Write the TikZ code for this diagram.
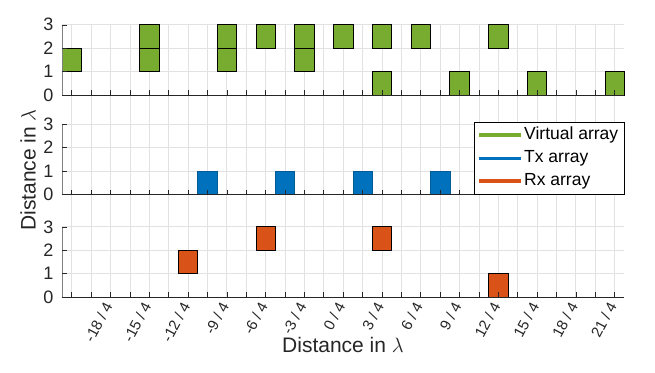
\documentclass[tikz,border=0pt]{standalone}
\usepackage{fontspec}
\setmainfont{Liberation Sans}
\definecolor{mgreen}{HTML}{77AC30}
\definecolor{mblue}{HTML}{0072BD}
\definecolor{mdblue}{HTML}{005A96}
\definecolor{morange}{HTML}{D95319}
\definecolor{mgrid}{HTML}{E2E2E2}
\definecolor{maxis}{HTML}{262626}
\definecolor{myaxis}{HTML}{808080}
\begin{document}
\begin{tikzpicture}[x=1pt,y=-1pt,
  gridl/.style={draw=mgrid, line width=0.7pt},
  vbar/.style={fill=mgreen, draw=black, line width=0.7pt},
  txbar/.style={fill=mblue, draw=mdblue, line width=0.5pt},
  rxbar/.style={fill=morange, draw=black, line width=0.7pt},
  xaxisl/.style={draw=maxis, line width=0.8pt},
  yaxisl/.style={draw=myaxis, line width=0.8pt},
  tickl/.style={draw=maxis, line width=0.6pt},
  ylab/.style={anchor=east, inner sep=0pt, font=\fontsize{18}{18}\selectfont, text=maxis},
  xlab/.style={anchor=east, inner sep=0pt, rotate=62, font=\fontsize{15}{15}\selectfont, text=maxis},
  axlab/.style={inner sep=0pt, font=\fontsize{21}{21}\selectfont, text=maxis},
  legtxt/.style={anchor=west, inner sep=0pt, font=\fontsize{17.5}{17.5}\selectfont, text=black}]
\useasboundingbox (0,0) rectangle (655,372);
\fill[white] (0,0) rectangle (655,372);

% vertical grid lines (continuous through all panels)
\foreach \k in {0,...,28} \draw[gridl] ({71.7+19.39*\k},24.5) -- ({71.7+19.39*\k},297);

% horizontal grid lines
\foreach \yo in {95,194.5,297} {
  \begin{scope}[shift={(71.7,\yo)}, x=19.39pt, y=23.4pt]
    \foreach \v in {1,2,3} \draw[gridl] (-0.5,\v) -- (28.5,\v);
  \end{scope}
}

% panel 1: virtual array
\begin{scope}[shift={(71.7,95)}, x=19.39pt, y=23.4pt]
  \foreach \k/\a in {0/1, 4/1, 4/2, 8/1, 8/2, 10/2, 12/1, 12/2, 14/2, 16/2, 16/0, 18/2, 20/0, 22/2, 24/0, 28/0}
    \draw[vbar] ({\k-0.5},\a) rectangle ({\k+0.5},{\a+1});
  \draw[yaxisl] (-0.5,0) -- (-0.5,3);
  \foreach \v in {1,2,3} \draw[tickl] (-0.5,\v) -- (-0.25,\v);
  \foreach \k in {0,...,28} \draw[tickl] (\k,0) -- (\k,0.2);
  \draw[xaxisl] (-0.5,0) -- (28.5,0);
\end{scope}

% panel 2: Tx array
\begin{scope}[shift={(71.7,194.5)}, x=19.39pt, y=23.4pt]
  \foreach \k in {7,11,15,19}
    \draw[txbar] ({\k-0.5},0) rectangle ({\k+0.5},1);
  \draw[yaxisl] (-0.5,0) -- (-0.5,3);
  \foreach \v in {1,2,3} \draw[tickl] (-0.5,\v) -- (-0.25,\v);
  \foreach \k in {0,...,28} \draw[tickl] (\k,0) -- (\k,0.2);
  \draw[xaxisl] (-0.5,0) -- (28.5,0);
\end{scope}

% panel 3: Rx array
\begin{scope}[shift={(71.7,297)}, x=19.39pt, y=23.4pt]
  \foreach \k/\a in {6/1, 10/2, 16/2, 22/0}
    \draw[rxbar] ({\k-0.5},\a) rectangle ({\k+0.5},{\a+1});
  \draw[yaxisl] (-0.5,0) -- (-0.5,3);
  \foreach \v in {1,2,3} \draw[tickl] (-0.5,\v) -- (-0.25,\v);
  \foreach \k in {0,...,28} \draw[tickl] (\k,0) -- (\k,0.2);
  \draw[xaxisl] (-0.5,0) -- (28.5,0);
\end{scope}

% y tick labels
\foreach \yo [count=\p] in {95,194.5,297}
  \foreach \v in {0,1,2,3}
    \node[ylab] (yt\p\v) at (53.5,{\yo-23.4*\v}) {\v};

% x tick labels
\foreach \i in {0,...,13} {
  \pgfmathtruncatemacro{\n}{-18+3*\i}
  \node[xlab] (xt\i) at ({71.7+19.39*(2+2*\i)-2},303) {\n\ / 4};
}

% axis labels
\node[axlab] (xlabel) at (343,345) {Distance in $\lambda$};
\node[axlab, rotate=90] (ylabel) at (28,170) {Distance in $\lambda$};

% legend
\draw[fill=white, draw=black, line width=0.6pt] (474,122) rectangle (624,194);
\coordinate (l1a) at (479,135); \coordinate (l1b) at (521,135);
\coordinate (l2a) at (479,158.3); \coordinate (l2b) at (521,158.3);
\coordinate (l3a) at (479,181); \coordinate (l3b) at (521,181);
\draw[mgreen, line width=3.5pt] (l1a) -- (l1b);
\draw[mblue, line width=3.5pt] (l2a) -- (l2b);
\draw[morange, line width=3.5pt] (l3a) -- (l3b);
\node[legtxt] (lg1) at (524,135) {Virtual array};
\node[legtxt] (lg2) at (524,158.3) {Tx array};
\node[legtxt] (lg3) at (524,181) {Rx array};
\end{tikzpicture}
\end{document}
